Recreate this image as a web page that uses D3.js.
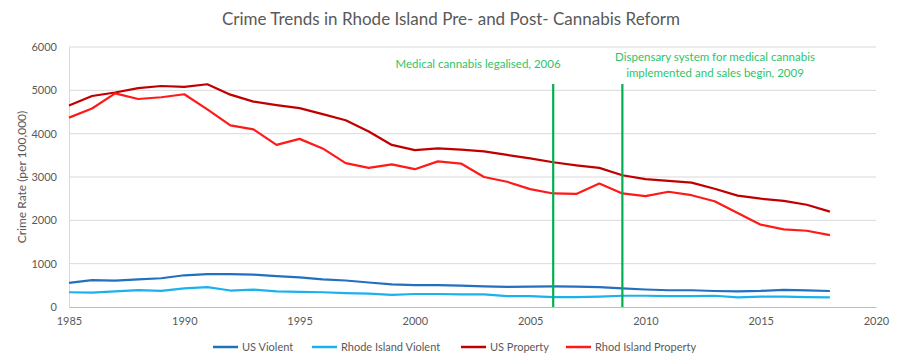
<!DOCTYPE html>
<html><head><meta charset="utf-8">
<script src="https://cdn.jsdelivr.net/npm/d3@7"></script>
<style>body{margin:0;background:#fff;} text{font-family:Lato,"Open Sans",sans-serif;}</style>
</head><body><svg id="c" width="900" height="364"></svg>
<script>
const years = d3.range(1985, 2019);
const usViolent = [557,620,610,637,663,732,758,758,747,714,685,637,611,566,523,507,505,494,476,463,469,474,472,458,431,404,387,387,369,362,373,397,383,369];
const riViolent = [340,330,360,390,370,430,460,380,400,360,350,340,320,310,280,300,300,290,290,250,250,230,230,240,260,260,250,250,260,220,240,240,230,220];
const usProperty = [4650,4870,4950,5050,5100,5080,5140,4900,4740,4660,4590,4450,4310,4050,3740,3620,3660,3630,3590,3510,3430,3340,3270,3210,3040,2950,2910,2870,2730,2570,2500,2450,2360,2200];
const riProperty = [4370,4580,4930,4800,4840,4910,4560,4190,4100,3740,3880,3660,3320,3210,3290,3180,3360,3310,3000,2890,2720,2620,2610,2850,2620,2560,2660,2580,2440,2170,1900,1790,1760,1660];
const seriesNames = ["US Violent","Rhode Island Violent","US Property","Rhod Island Property"];
const seriesColors = ["#2270C0","#1AB2EE","#C00000","#FF1A1A"];
const yTicks = [0,1000,2000,3000,4000,5000,6000];
const xTicks = [1985,1990,1995,2000,2005,2010,2015,2020];
const events = [2006, 2009];
const eventLabels = [["Medical cannabis legalised, 2006"],["Dispensary system for medical cannabis","implemented  and sales begin, 2009"]];

const svg = d3.select("#c");
const x = d3.scaleLinear().domain([1985,2020]).range([69,876]);
const y = d3.scaleLinear().domain([0,6000]).range([307,47]);

svg.append("text").attr("x",451).attr("y",25).attr("text-anchor","middle")
  .attr("font-size",17).attr("fill","#595959").text("Crime Trends in Rhode Island Pre- and Post- Cannabis Reform");

// gridlines
svg.append("g").selectAll("line").data(yTicks.filter(d=>d>0)).join("line")
  .attr("x1",69).attr("x2",876).attr("y1",d=>y(d)).attr("y2",d=>y(d))
  .attr("stroke","#D9D9D9").attr("stroke-width",1);

// y axis
const ya = svg.append("g").attr("transform","translate(69,0)")
  .call(d3.axisLeft(y).tickValues(yTicks).tickSize(0).tickPadding(12).tickFormat(d3.format("d")));
ya.select(".domain").attr("stroke","#D9D9D9");
ya.selectAll("text").attr("font-size",11).attr("fill","#595959").style("font-family","Lato");

// x axis
const xa = svg.append("g").attr("transform","translate(0,307)")
  .call(d3.axisBottom(x).tickValues(xTicks).tickSize(0).tickPadding(10).tickFormat(d3.format("d")));
xa.select(".domain").attr("stroke","#BFBFBF");
xa.selectAll("text").attr("font-size",11).attr("fill","#595959").style("font-family","Lato");

svg.append("text").attr("transform","translate(26,177) rotate(-90)").attr("text-anchor","middle")
  .attr("font-size",12).attr("fill","#595959").text("Crime Rate (per 100,000)");

const data = [usViolent, riViolent, usProperty, riProperty];
const line = d3.line().x((d,i)=>x(years[i])).y(d=>y(d));
svg.append("g").selectAll("path").data(data).join("path")
  .attr("d",line).attr("fill","none").attr("stroke",(d,i)=>seriesColors[i]).attr("stroke-width",2.2)
  .attr("stroke-linejoin","round");

// events
svg.append("g").selectAll("line").data(events).join("line")
  .attr("x1",d=>x(d)).attr("x2",d=>x(d)).attr("y1",84).attr("y2",307)
  .attr("stroke","#00B050").attr("stroke-width",2.2);
const lab = svg.append("g");
lab.append("text").attr("x",478).attr("y",68).attr("text-anchor","middle").attr("font-size",11.5)
  .attr("fill","#2EC36A").text(eventLabels[0][0]);
eventLabels[1].forEach((t,i)=>{
  lab.append("text").attr("x",715).attr("y",61+i*16).attr("text-anchor","middle").attr("font-size",11.5)
   .attr("fill","#2EC36A").text(t);
});

// legend
const lx = [213,312,461,566];
const lg = svg.append("g");
seriesNames.forEach((n,i)=>{
  lg.append("line").attr("x1",lx[i]).attr("x2",lx[i]+25).attr("y1",347).attr("y2",347)
    .attr("stroke",seriesColors[i]).attr("stroke-width",2.5);
  lg.append("text").attr("x",lx[i]+29).attr("y",351).attr("font-size",11).attr("fill","#595959").text(n);
});
</script></body></html>
